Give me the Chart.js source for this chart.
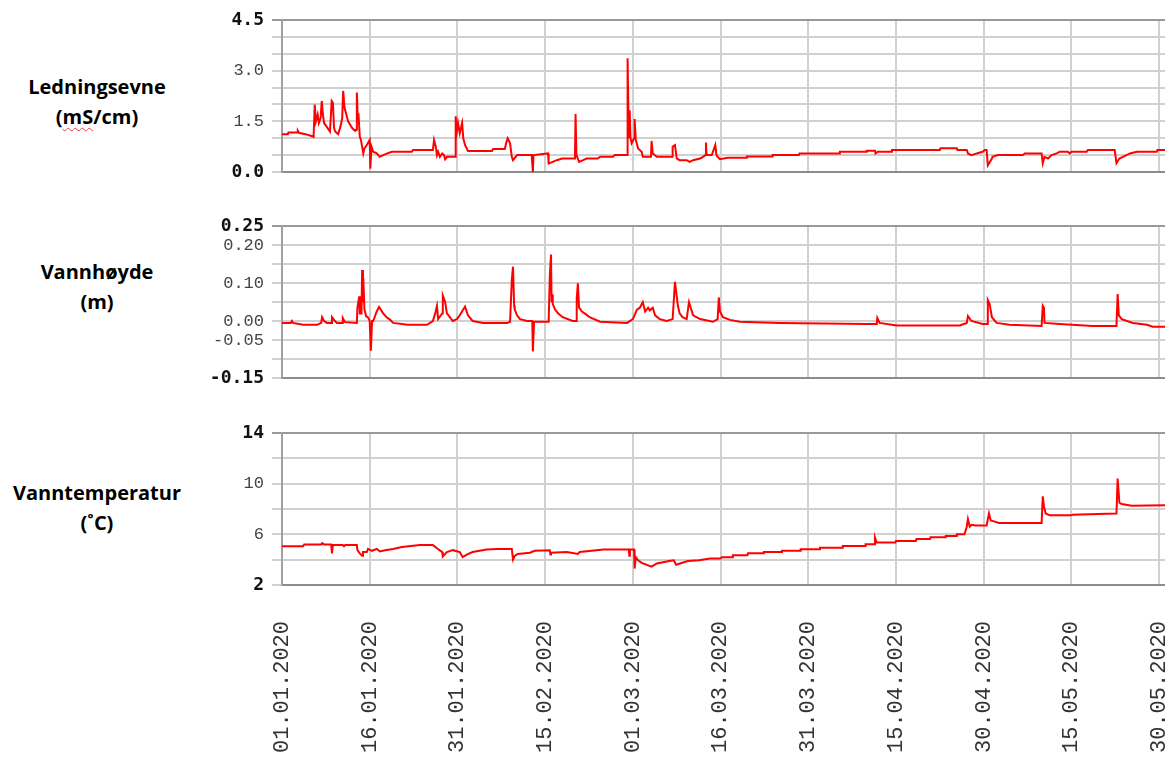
<!DOCTYPE html>
<html>
<head>
<meta charset="utf-8">
<script src="https://cdn.jsdelivr.net/npm/chart.js@4.4.1/dist/chart.umd.min.js"></script>
<style>
  html, body { margin: 0; padding: 0; background: #fff; }
  body { width: 1165px; height: 760px; position: relative; overflow: hidden; }
  .panel { position: absolute; left: 200px; width: 965px; }
  .label {
    position: absolute; left: 0; width: 194px; text-align: center;
    font: bold 20px "Open Sans", Lato, sans-serif; color: #000; line-height: 30px;
  }
  .spell { text-decoration: underline wavy #e04040; text-decoration-thickness: 1px; text-underline-offset: 3px; }
</style>
</head>
<body>
<div class="label" style="top:72px">Ledningsevne<br>(<span class="spell">mS</span>/cm)</div>
<div class="label" style="top:257px">Vannhøyde<br>(m)</div>
<div class="label" style="top:478px">Vanntemperatur<br>(˚C)</div>

<div class="panel" style="top:0px;height:180px"><canvas id="condChart"></canvas></div>
<div class="panel" style="top:206px;height:180px"><canvas id="levelChart"></canvas></div>
<div class="panel" style="top:413px;height:347px"><canvas id="tempChart"></canvas></div>

<script>
// Time axis: days counted from 01.01.2020
const dayMin = 0;
const dayMax = 151;
const dateTickDays = [0, 15, 30, 45, 60, 75, 90, 105, 120, 135, 150];
const dateTickLabels = ['01.01.2020', '16.01.2020', '31.01.2020', '15.02.2020', '01.03.2020',
  '16.03.2020', '31.03.2020', '15.04.2020', '30.04.2020', '15.05.2020', '30.05.2020'];

// Ledningsevne (mS/cm): [day, value]
const conductivity = [
  [0,1.12],[1,1.12],[1.1,1.17],[2.6,1.17],[2.7,1.22],[2.9,1.16],[4,1.12],[5.3,1.05],[5.4,1.04],
  [5.6,2.0],[5.8,1.5],[6.1,1.7],[6.3,1.45],[6.6,1.6],[6.8,2.1],[7.0,1.7],[7.2,1.45],[7.6,1.35],
  [8.2,1.2],[8.5,2.1],[8.7,2.05],[8.9,1.3],[9.1,1.2],[9.6,1.12],[10.0,1.35],[10.3,1.6],[10.45,2.4],
  [10.7,1.9],[11.0,1.7],[11.3,1.5],[12.0,1.3],[12.5,1.22],[12.7,1.25],[12.8,2.35],[12.95,1.6],
  [13.1,1.65],[13.3,1.05],[13.5,0.95],[13.7,0.75],[13.9,0.55],[14.1,0.7],[14.5,0.8],[15.0,0.95],
  [15.1,0.1],[15.3,0.75],[15.6,0.6],[16.2,0.55],[16.7,0.45],[17.3,0.5],[18.0,0.55],[18.8,0.6],
  [22.2,0.6],[22.4,0.65],[25.8,0.65],[26.0,0.95],[26.3,0.75],[26.5,0.5],[26.7,0.6],[27.0,0.45],
  [27.4,0.55],[27.7,0.5],[27.9,0.38],[28.2,0.45],[29.6,0.45],[29.7,1.65],[29.9,1.2],[30.1,1.45],
  [30.4,1.15],[30.6,1.3],[30.8,1.45],[31.0,1.0],[31.3,0.8],[31.8,0.62],[35.9,0.62],[36.1,0.68],
  [38.1,0.68],[38.4,0.9],[38.6,1.0],[39.0,0.85],[39.3,0.45],[39.5,0.35],[40.2,0.5],[42.7,0.5],
  [42.9,0.0],[43.0,0.5],[45.5,0.55],[45.6,0.25],[46.3,0.3],[47.0,0.35],[47.9,0.4],[50.1,0.4],
  [50.2,1.72],[50.35,0.5],[50.8,0.3],[51.5,0.35],[52.1,0.4],[54.0,0.4],[54.4,0.45],[56.6,0.45],
  [56.9,0.5],[59.0,0.5],[59.1,3.37],[59.3,1.0],[59.45,1.83],[59.6,1.0],[59.8,0.85],[60.2,1.0],
  [60.3,1.57],[60.5,0.95],[60.9,0.7],[61.5,0.6],[61.7,0.45],[63.1,0.45],[63.2,0.92],[63.4,0.55],
  [64.1,0.45],[66.7,0.45],[66.8,0.75],[67.2,0.8],[67.5,0.4],[68.0,0.35],[69.2,0.35],[69.7,0.3],
  [70.3,0.35],[71.5,0.4],[72.0,0.45],[72.4,0.5],[72.5,0.87],[72.6,0.5],[73.5,0.5],[74.1,0.8],
  [74.3,0.5],[74.5,0.45],[74.9,0.38],[76.2,0.42],[79.4,0.42],[79.5,0.46],[83.8,0.46],[83.9,0.5],
  [88.4,0.5],[88.5,0.55],[95.3,0.55],[95.4,0.6],[99.9,0.6],[100,0.63],[101.4,0.63],[101.5,0.55],
  [101.9,0.6],[104.2,0.6],[104.3,0.65],[112.5,0.65],[112.6,0.7],
  [115.4,0.7],[115.5,0.65],[117.1,0.65],[117.3,0.55],[117.9,0.5],[118.8,0.55],[119.8,0.6],
  [120.2,0.65],[120.5,0.65],[120.7,0.2],[121.4,0.4],[121.5,0.45],[122.4,0.5],[126.7,0.5],
  [127,0.55],[129.9,0.55],[130.1,0.26],[130.4,0.45],[131,0.4],[131.6,0.5],[132.5,0.55],[133,0.6],
  [134.4,0.6],[134.7,0.55],[135,0.6],[137.6,0.6],[137.8,0.65],[142.4,0.65],[142.7,0.26],
  [143.2,0.4],[143.8,0.45],[145,0.55],[146.2,0.6],[149.6,0.6],[149.7,0.65],[151,0.65]
];
const condTicks = [0, 0.5, 1, 1.5, 2, 2.5, 3, 3.5, 4, 4.5];
const condTickLabels = ['0.0', '', '', '1.5', '', '', '3.0', '', '', '4.5'];

// Vannhøyde (m): [day, value]
const waterLevel = [
  [0,-0.005],[1.5,-0.005],[1.7,0.0],[1.9,-0.005],[3.6,-0.01],[6.0,-0.01],[6.7,-0.005],[6.85,0.01],
  [7.2,0.0],[7.7,-0.005],[8.4,-0.005],[8.55,0.01],[9.06,0.0],[9.4,-0.005],[10.3,-0.005],[10.4,0.008],
  [10.8,-0.003],[12.8,-0.005],[12.9,0.035],[13.2,0.065],[13.3,0.02],[13.6,0.02],[13.7,0.134],
  [13.85,0.05],[13.9,0.113],[14.1,0.03],[14.4,0.012],[14.7,0.01],[15.0,0.0],[15.2,-0.078],
  [15.4,0.0],[15.6,0.0],[16.2,0.025],[16.6,0.037],[17.3,0.02],[17.9,0.01],[18.5,0.003],[19.0,-0.005],
  [21.5,-0.01],[24.8,-0.01],[25.8,0.0],[26.2,0.02],[26.5,0.04],[26.7,0.005],[27.4,0.02],[27.5,0.067],
  [27.9,0.05],[28.2,0.02],[28.7,0.01],[29.2,0.0],[29.9,0.005],[30.4,0.015],[31.3,0.038],[31.8,0.015],
  [32.6,0.0],[34.4,-0.005],[38.5,-0.005],[39.0,-0.002],[39.3,0.108],[39.5,0.143],[39.7,0.04],
  [39.8,0.03],[40.2,0.015],[40.7,0.005],[41.9,0.0],[42.8,0.0],[42.9,-0.08],[43.1,-0.002],
  [45.6,-0.002],[45.8,0.12],[46.0,0.175],[46.1,0.05],[46.2,0.07],[46.3,0.045],[46.7,0.03],[47.2,0.02],
  [48.0,0.01],[49.7,0.0],[50.3,0.0],[50.4,0.06],[50.6,0.099],[50.8,0.035],[51.3,0.025],[52.1,0.016],
  [52.6,0.01],[54.4,-0.002],[59.0,-0.005],[60.0,0.005],[60.7,0.03],[61.2,0.035],[61.7,0.05],
  [62.1,0.025],[62.6,0.035],[62.9,0.028],[63.4,0.035],[63.8,0.015],[64.6,0.005],[65.8,0.0],
  [66.8,0.005],[67.2,0.103],[67.7,0.04],[68.0,0.02],[68.5,0.01],[69.2,0.005],[69.6,0.05],[69.9,0.035],
  [70.3,0.015],[71.5,0.005],[73.7,-0.002],[74.5,0.005],[74.7,0.062],[74.9,0.025],[75.4,0.01],
  [76.6,0.003],[78.3,-0.002],[85.1,-0.005],[100,-0.008],[101.7,-0.008],[101.8,0.008],[102.2,-0.005],
  [105.1,-0.012],[115.9,-0.012],[117.1,-0.005],[117.3,0.013],[117.9,0.0],[119.8,-0.008],
  [120.6,-0.008],[120.7,0.055],[121.0,0.045],[121.4,0.01],[122.2,-0.005],[124.4,-0.01],
  [129.9,-0.013],[130.1,0.04],[130.3,0.035],[130.4,-0.005],[133.0,-0.008],[138.6,-0.013],
  [142.7,-0.013],[142.9,0.071],[143.1,0.015],[143.6,0.005],[145.5,-0.005],[147.9,-0.01],
  [148.9,-0.015],[151,-0.015]
];
const levelTicks = [-0.15, -0.10, -0.05, 0, 0.05, 0.10, 0.15, 0.20, 0.25];
const levelTickLabels = ['-0.15', '', '-0.05', '0.00', '', '0.10', '', '0.20', '0.25'];

// Vanntemperatur (°C): [day, value]
const waterTemp = [
  [0,5.05],[3.6,5.05],[3.8,5.2],[6.7,5.2],[6.85,5.3],[7.2,5.2],[8.4,5.2],[8.55,4.5],[8.7,5.15],
  [10.4,5.15],[10.6,5.05],[10.8,5.15],[12.8,5.15],[12.9,4.75],[13.3,4.5],[13.7,4.3],[13.85,4.6],
  [14.5,4.6],[14.7,4.85],[15.4,4.7],[16.2,4.85],[16.75,4.65],[17.6,4.75],[19.0,4.85],[20.5,5.0],
  [23.6,5.15],[25.8,5.15],[26.5,4.9],[27.4,4.6],[27.5,4.25],[28.2,4.6],[29.2,4.75],[30.4,4.6],
  [30.9,4.2],[31.6,4.4],[32.6,4.6],[35.0,4.8],[36.8,4.85],[39.3,4.85],[39.5,4.0],[39.8,4.3],
  [40.3,4.45],[42.4,4.55],[43.2,4.7],[45.8,4.75],[45.9,4.4],[46.0,4.55],[48.7,4.6],[50.6,4.45],
  [50.9,4.6],[55.0,4.8],[59.3,4.8],[59.4,4.3],[59.5,4.8],[60.2,4.8],[60.3,3.3],[60.5,4.2],
  [60.9,3.95],[61.5,3.75],[63.2,3.45],[64.1,3.7],[66.2,3.9],[67.0,3.95],[67.4,3.6],[69.4,3.9],
  [71.3,3.95],[73.2,4.1],[75.0,4.1],[75.2,4.2],[77.0,4.2],[77.1,4.35],[79.6,4.35],[79.7,4.5],
  [82.3,4.5],[82.4,4.6],[85.4,4.6],[85.5,4.7],[88.6,4.7],[88.7,4.82],[91.9,4.82],[92.0,4.95],
  [95.8,4.95],[95.9,5.08],[99.7,5.08],[99.8,5.22],[101.3,5.22],[101.4,5.75],[101.7,5.35],
  [104.9,5.35],[105.0,5.47],[108.4,5.47],[108.5,5.63],[110.8,5.63],[110.9,5.76],[113.4,5.76],
  [113.5,5.87],[115.3,5.87],[115.4,6.0],[116.7,6.0],[116.8,6.13],[117.1,6.6],[117.3,7.2],
  [117.6,6.6],[117.9,6.75],[118.6,6.7],[120.5,6.7],[120.9,7.65],[121.2,7.1],[121.9,7.0],
  [122.6,6.9],[125.5,6.9],[129.9,6.9],[130.1,9.0],[130.3,8.2],[130.6,7.65],[131.3,7.5],[134.9,7.5],
  [135.2,7.55],[139.5,7.6],[142.7,7.65],[142.9,10.4],[143.2,8.5],[143.6,8.4],[145.3,8.25],[151,8.3]
];
const tempTicks = [2, 4, 6, 8, 10, 12, 14];
const tempTickLabels = ['2', '', '6', '', '10', '', '14'];

const GRID = '#d0d0d0';
const EDGE_FONT = { family: 'DejaVu Sans Mono', size: 18, weight: 'bold' };
const TICK_FONT = { family: 'Liberation Mono', size: 17 };

function makePanel(canvasId, series, yTicks, yLabels, showDates, xHeight) {
  const last = yTicks.length - 1;
  const isEdge = (i) => i === 0 || i === last;
  return new Chart(document.getElementById(canvasId), {
    type: 'line',
    data: {
      datasets: [{
        data: series.map(p => ({ x: p[0], y: p[1] })),
        borderColor: '#ff0000',
        borderWidth: 2,
        pointRadius: 0,
        tension: 0,
        fill: false
      }]
    },
    options: {
      responsive: true,
      maintainAspectRatio: false,
      animation: false,
      events: [],
      layout: { padding: { top: 20, bottom: showDates ? 0 : 8, left: 0, right: 0 } },
      plugins: { legend: { display: false }, tooltip: { enabled: false } },
      scales: {
        x: {
          type: 'linear',
          min: dayMin,
          max: dayMax,
          afterBuildTicks: s => { s.ticks = dateTickDays.map(v => ({ value: v })); },
          afterFit: s => { s.height = xHeight; s.paddingLeft = 0; s.paddingRight = 0; },
          grid: { color: GRID, lineWidth: 2, drawTicks: false },
          border: { display: true, color: '#8c8c8c', width: 2 },
          ticks: {
            display: showDates,
            autoSkip: false,
            minRotation: 90,
            maxRotation: 90,
            padding: 36,
            color: '#333',
            font: { family: 'Liberation Mono', size: 22 },
            callback: (v, i) => dateTickLabels[i]
          }
        },
        y: {
          type: 'linear',
          min: yTicks[0],
          max: yTicks[last],
          afterBuildTicks: s => { s.ticks = yTicks.map(v => ({ value: v })); },
          afterFit: s => { s.width = 82; s.paddingTop = 0; s.paddingBottom = 0; },
          grid: {
            color: ctx => ctx.index === last ? '#999999' : GRID,
            lineWidth: 2,
            drawTicks: true,
            tickLength: 10
          },
          border: { display: true, color: '#a0a0a0', width: 2 },
          ticks: {
            autoSkip: false,
            padding: 8,
            color: ctx => isEdge(ctx.index) ? '#111' : '#444',
            font: ctx => isEdge(ctx.index) ? EDGE_FONT : TICK_FONT,
            callback: (v, i) => yLabels[i]
          }
        }
      }
    }
  });
}

makePanel('condChart', conductivity, condTicks, condTickLabels, false, 0);
makePanel('levelChart', waterLevel, levelTicks, levelTickLabels, false, 0);
makePanel('tempChart', waterTemp, tempTicks, tempTickLabels, true, 175);
</script>
</body>
</html>
